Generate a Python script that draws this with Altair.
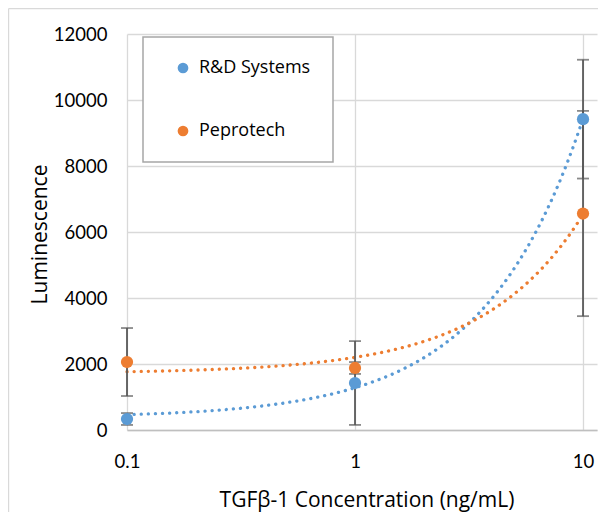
import altair as alt
import pandas as pd

# ---- data ----
concentrations = [0.1, 1, 10]
series_names = ["R&D Systems", "Peprotech"]
series_colors = ["#5B9BD5", "#ED7D31"]
rd_values = [333, 1424, 9420]
rd_errors = [180, 1270, 1800]
pep_values = [2060, 1879, 6560]
pep_errors = [1030, 180, 3110]
x_ticks = [0.1, 1, 10]
y_ticks = [0, 2000, 4000, 6000, 8000, 10000, 12000]

rows = []
for name, vals, errs in [(series_names[0], rd_values, rd_errors),
                         (series_names[1], pep_values, pep_errors)]:
    for c, v, e in zip(concentrations, vals, errs):
        rows.append({"series": name, "conc": c, "lum": v, "err": e})
df = pd.DataFrame(rows)

FONT = "Lato"
TFONT = "Open Sans"
X_TITLE = "TGFβ-1 Concentration (ng/mL)"
Y_TITLE = "Luminescence"

x_scale = alt.Scale(type="log", domain=[0.1, 11.516], nice=False)
y_scale = alt.Scale(domain=[0, 12000], nice=False)
col_scale = alt.Scale(domain=series_names, range=series_colors)

x_axis = alt.Axis(values=x_ticks, format="~g", grid=True, ticks=False,
                  domain=True, domainColor="#BFBFBF", domainWidth=1.5,
                  gridColor="#D9D9D9", gridWidth=1.3,
                  labelFont=FONT, labelFontSize=18.5, labelColor="#000000",
                  labelPadding=22, labelFlush=False,
                  titleFont=TFONT, titleFontSize=21, titleFontWeight="normal",
                  titleColor="#000000", titleX=239.5, titleY=76,
                  titleBaseline="alphabetic", titleAlign="center")
y_axis = alt.Axis(values=y_ticks, format="d", grid=True, ticks=False,
                  domain=False, gridColor="#D9D9D9", gridWidth=1.3,
                  labelFont=FONT, labelFontSize=18.5, labelColor="#000000",
                  labelPadding=20,
                  titleFont=TFONT, titleFontSize=21, titleFontWeight="normal",
                  titleColor="#000000", titleX=-86.5, titleY=200,
                  titleAngle=-90, titleBaseline="middle", titleAlign="center")


def X(field):
    return alt.X(field, type="quantitative", scale=x_scale, axis=x_axis, title=X_TITLE)


def Y(field):
    return alt.Y(field, type="quantitative", scale=y_scale, axis=y_axis, title=Y_TITLE)


one = pd.DataFrame({"a": [0]})
# outer chart-area border (decoration): left and top edges
border_left = alt.Chart(one).mark_rule(color="#D9D9D9", strokeWidth=1.2).encode(
    x=alt.value(-118.4), y=alt.value(-25.4), y2=alt.value(1000))
border_top = alt.Chart(one).mark_rule(color="#D9D9D9", strokeWidth=1.2).encode(
    x=alt.value(-118.4), x2=alt.value(1000), y=alt.value(-25.4))


def trend_layer(name, color):
    # linear trendline fitted by Vega's regression, drawn on a log-spaced grid
    return alt.Chart(df).transform_filter(
        alt.datum.series == name
    ).transform_regression(
        "conc", "lum", params=True
    ).transform_calculate(
        grid="sequence(0, 101)"
    ).transform_flatten(["grid"]).transform_calculate(
        xf="pow(10, -1 + datum.grid / 50)",
        yf="datum.coef[0] + datum.coef[1] * datum.xf"
    ).mark_line(strokeDash=[0.1, 7], strokeCap="round", strokeWidth=3.3,
                color=color).encode(
        x=X("xf"), y=Y("yf"), order="xf:Q",
    )


trend_rd = trend_layer(series_names[0], series_colors[0])
trend_pep = trend_layer(series_names[1], series_colors[1])

err_base = alt.Chart(df).transform_calculate(
    lo="datum.lum - datum.err", hi="datum.lum + datum.err"
)
err_rule = err_base.mark_rule(color="#595959", strokeWidth=1.8).encode(
    x=X("conc"), y=Y("lo"), y2="hi:Q"
)
err_caps = err_base.transform_fold(["lo", "hi"], as_=["which", "yv"]).mark_tick(
    orient="horizontal", size=12, thickness=1.8, color="#595959"
).encode(x=X("conc"), y=Y("yv"))

points = alt.Chart(df).mark_circle(size=150, opacity=1, strokeWidth=0).encode(
    x=X("conc"), y=Y("lum"),
    fill=alt.Fill("series:N", scale=col_scale,
                  legend=alt.Legend(title=None, orient="none", legendX=16, legendY=3,
                                    symbolType="circle", symbolSize=115,
                                    symbolStrokeWidth=0, symbolOffset=9,
                                    labelFont=TFONT, labelFontSize=18,
                                    labelColor="#000000", labelOffset=7,
                                    rowPadding=45, padding=22,
                                    strokeColor="#A6A6A6", fillColor="#FFFFFF")),
)

chart = alt.layer(border_left, border_top, trend_rd, trend_pep, err_rule, err_caps,
                  points).properties(
    width=470, height=396,
    autosize=alt.AutoSizeParams(type="none"),
    padding={"left": 119, "top": 26, "right": 1, "bottom": 82},
).configure_view(strokeWidth=0).configure_legend(strokeWidth=1.5)

chart.save("out.html", embed_options={"renderer": "svg", "actions": False})
